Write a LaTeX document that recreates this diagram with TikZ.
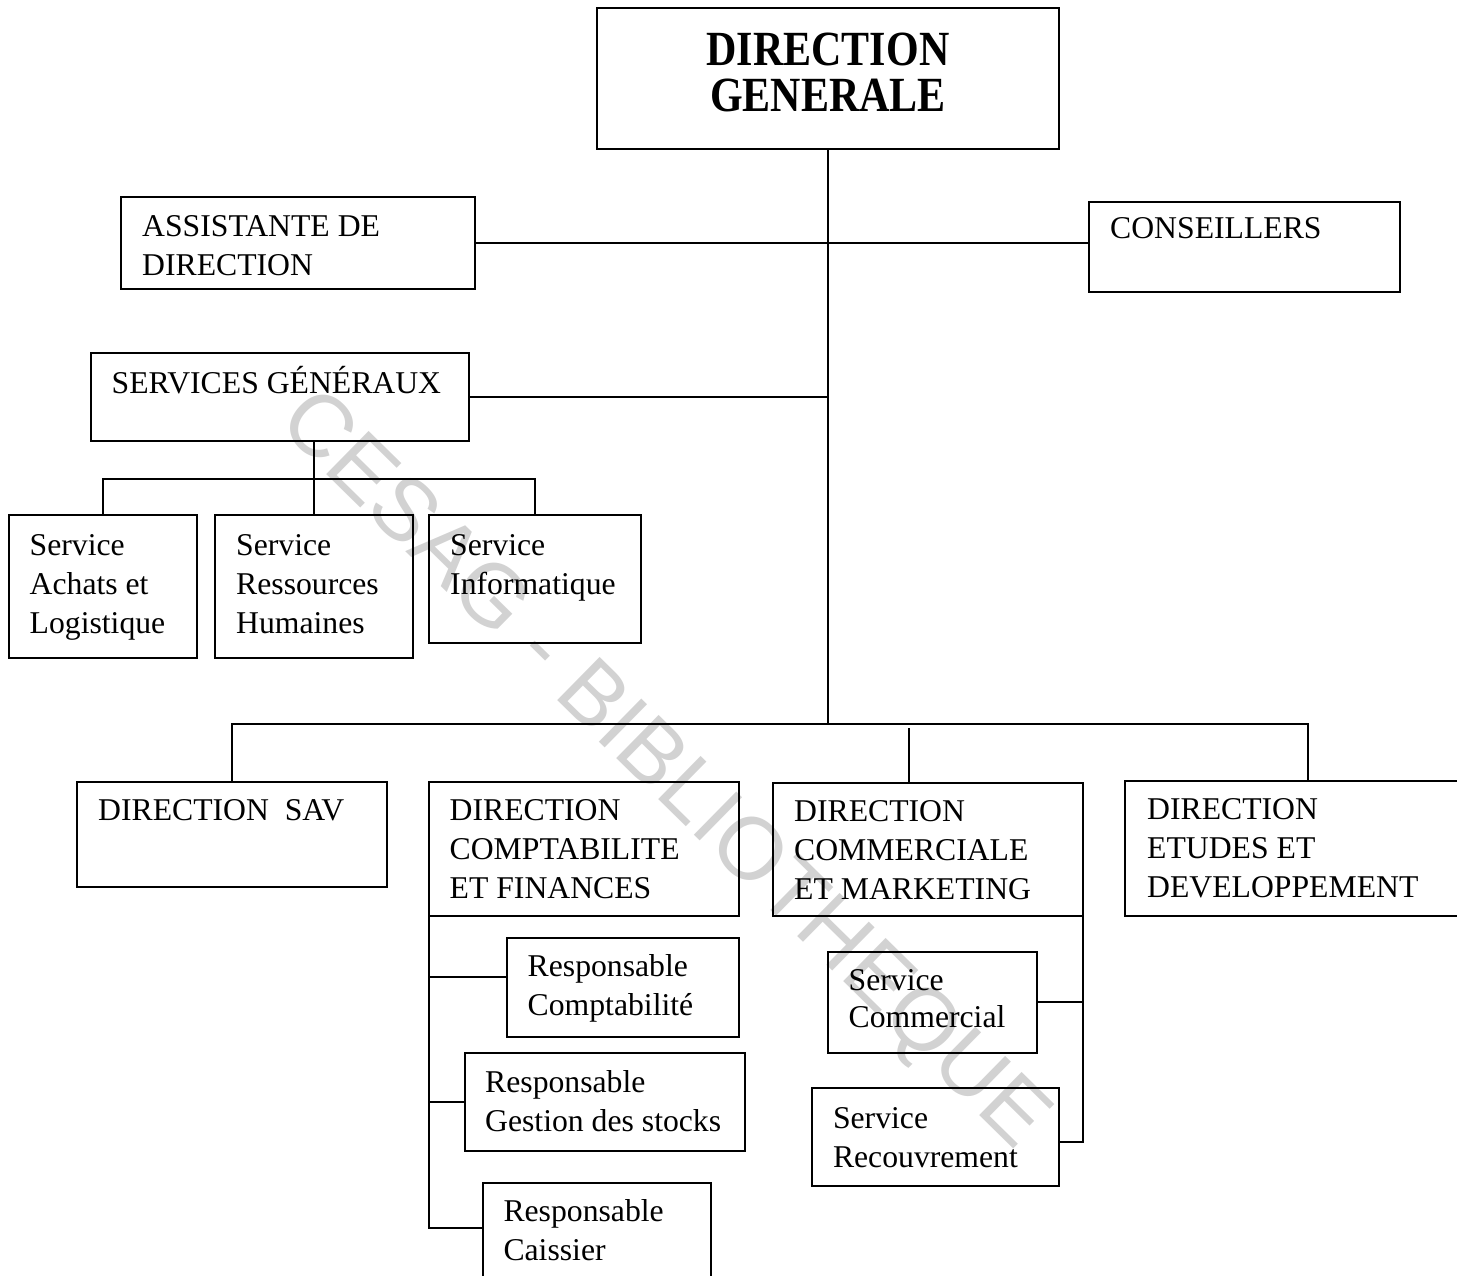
\documentclass[tikz,border=0pt]{standalone}
\usepackage{fontspec}
\setmainfont{Liberation Serif}
\newfontfamily\wmfont{Liberation Sans}
\begin{document}
\begin{tikzpicture}[x=1pt,y=-1pt,
  box/.style={draw, line width=2pt, anchor=north west, inner sep=0pt, outer sep=0pt},
  conn/.style={line width=2pt},
  txt/.style={anchor=north west, inner sep=0pt, align=left, font=\fontsize{31.7}{39}\selectfont},
  txtone/.style={anchor=base west, inner sep=0pt, font=\fontsize{31.7}{39}\selectfont},
  title/.style={anchor=north, inner sep=0pt, font=\fontsize{42}{38.5}\selectfont\bfseries},
  wm/.style={rotate=-44.5, inner sep=0pt, text=gray!35, font=\wmfont\fontsize{88}{88}\selectfont}]
\useasboundingbox (0,0) rectangle (1457,1276);
\clip (0,0) rectangle (1457,1276);

% watermark
\node[wm] (wmark) at (662,772) {CESAG - BIBLIOTHEQUE};

% boxes
\node[box, minimum width=462, minimum height=141] (dg) at (597,8) {};
\node[box, minimum width=354, minimum height=91] (asst) at (121,197.5) {};
\node[box, minimum width=311, minimum height=90] (cons) at (1089,202) {};
\node[box, minimum width=378, minimum height=88] (sg) at (90.5,352.5) {};
\node[box, minimum width=188, minimum height=143] (sach) at (8.5,515) {};
\node[box, minimum width=198, minimum height=143] (srh) at (214.5,515) {};
\node[box, minimum width=212, minimum height=128] (sinf) at (428.5,515) {};
\node[box, minimum width=310, minimum height=105] (sav) at (77,782) {};
\node[box, minimum width=310, minimum height=134] (dcf) at (428.7,782) {};
\node[box, minimum width=310, minimum height=133] (dcm) at (773,783) {};
\node[box, minimum width=366, minimum height=135] (ded) at (1125,781) {};
\node[box, minimum width=232, minimum height=99] (rc) at (506.7,938.3) {};
\node[box, minimum width=280.5, minimum height=97.4] (rg) at (464.7,1053.3) {};
\node[box, minimum width=227.5, minimum height=130] (rca) at (483,1183) {};
\node[box, minimum width=209.4, minimum height=101] (scom) at (827.6,951.7) {};
\node[box, minimum width=247.2, minimum height=97.7] (srec) at (811.6,1088.3) {};

% texts
\node[title] (dg-t) at (828,32.5) {\scalebox{1}[1.17]{\begin{tabular}{@{}c@{}}DIRECTION\\GENERALE\end{tabular}}};
\node[txt] (asst-t) at (142,209.4) {\strut ASSISTANTE DE\\\strut DIRECTION};
\node[txtone] (cons-t) at (1110,238.3) {CONSEILLERS};
\node[txtone] (sg-t) at (111.5,393) {SERVICES GÉNÉRAUX};
\node[txt] (sach-t) at (29.5,527.7) {\strut Service\\\strut Achats et\\\strut Logistique};
\node[txt] (srh-t) at (236,527.7) {\strut Service\\\strut Ressources\\\strut Humaines};
\node[txt] (sinf-t) at (450,527.7) {\strut Service\\\strut Informatique};
\node[txtone] (sav-t) at (98,820.5) {DIRECTION\ \ SAV};
\node[txt] (dcf-t) at (449.5,792.7) {\strut DIRECTION\\\strut COMPTABILITE\\\strut ET FINANCES};
\node[txt] (dcm-t) at (794,794.4) {\strut DIRECTION\\\strut COMMERCIALE\\\strut ET MARKETING};
\node[txt] (ded-t) at (1147,792) {\strut DIRECTION\\\strut ETUDES ET\\\strut DEVELOPPEMENT};
\node[txt] (rc-t) at (527.5,949.4) {\strut Responsable\\\strut Comptabilité};
\node[txt] (rg-t) at (485,1065.4) {\strut Responsable\\\strut Gestion des stocks};
\node[txt] (rca-t) at (503.3,1194.4) {\strut Responsable\\\strut Caissier};
\node[txt, font=\fontsize{31.7}{37.5}\selectfont] (scom-t) at (848.5,963.7) {\strut Service\\\strut Commercial};
\node[txt] (srec-t) at (832.8,1101) {\strut Service\\\strut Recouvrement};

% connectors
\coordinate (tb) at (828,724);
\draw[conn] (dg.south) -- (tb);
\draw[conn] (asst.east) -- (asst.east -| cons.west);
\draw[conn] (sg.east) -- (sg.east -| dg.south);
\coordinate (sgbus) at (314,479);
\draw[conn] (sg.south -| srh.north) -- (srh.north);
\draw[conn] (sach.north) |- (sgbus -| sinf.north) -- (sinf.north);
\draw[conn] (sav.north) |- (ded.north |- tb) -- (ded.north);
\draw[conn] ([xshift=-19.5pt]dcm.north) -- ++(0,-55);
\draw[conn] (dcf.south west) |- ([yshift=20pt]rca.west);
\draw[conn] ([yshift=11pt]rc.west) -- ([yshift=11pt]rc.west -| dcf.south west);
\draw[conn] (rg.west) -- (rg.west -| dcf.south west);
\draw[conn] (dcm.south east) |- ([yshift=-4.5pt]srec.east);
\draw[conn] (scom.east) -- (scom.east -| dcm.south east);
\end{tikzpicture}
\end{document}
